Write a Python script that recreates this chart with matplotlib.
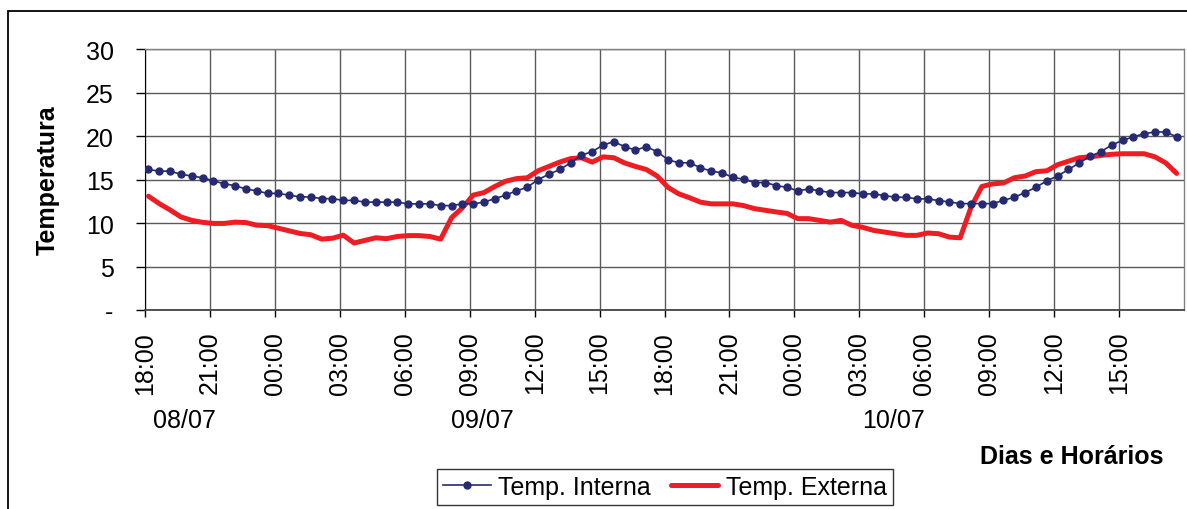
import numpy as np
import matplotlib
matplotlib.use("Agg")
import matplotlib.pyplot as plt
from matplotlib.patches import Rectangle

plt.rcParams["font.family"] = ["Liberation Sans", "DejaVu Sans"]

# readings every 30 min, starting 08/07 18:00
temp_interna = [
    16.15, 15.96, 15.96, 15.6, 15.4, 15.2, 14.85, 14.5, 14.3, 13.9,
    13.7, 13.4, 13.4, 13.2, 13.0, 13.0, 12.8, 12.8, 12.6, 12.6,
    12.4, 12.4, 12.4, 12.4, 12.2, 12.2, 12.2, 12.0, 12.0, 12.2,
    12.2, 12.4, 12.8, 13.2, 13.7, 14.1, 15.0, 15.6, 16.15, 16.9,
    17.8, 18.2, 18.96, 19.35, 18.77, 18.38, 18.77, 18.19, 17.27, 16.92,
    16.92, 16.35, 15.96, 15.77, 15.23, 15.04, 14.65, 14.65, 14.3, 14.1,
    13.7, 13.9, 13.7, 13.5, 13.5, 13.5, 13.35, 13.35, 13.15, 12.96,
    12.96, 12.77, 12.77, 12.58, 12.42, 12.23, 12.23, 12.23, 12.23, 12.6,
    12.96, 13.5, 14.1, 14.85, 15.4, 16.15, 16.9, 17.65, 18.2, 18.96,
    19.5, 19.9, 20.27, 20.46, 20.46, 19.9,
]
temp_externa = [
    13.08, 12.23, 11.5, 10.7, 10.3, 10.08, 9.95, 9.95, 10.1, 10.05,
    9.75, 9.7, 9.4, 9.1, 8.8, 8.65, 8.15, 8.25, 8.6, 7.7,
    8.0, 8.3, 8.2, 8.45, 8.55, 8.55, 8.45, 8.15, 10.6, 11.75,
    13.2, 13.5, 14.2, 14.8, 15.1, 15.2, 16.0, 16.5, 17.0, 17.4,
    17.5, 17.0, 17.6, 17.5, 16.9, 16.5, 16.15, 15.4, 14.1, 13.35,
    12.9, 12.4, 12.2, 12.2, 12.2, 12.0, 11.65, 11.46, 11.27, 11.1,
    10.5, 10.5, 10.3, 10.1, 10.3, 9.73, 9.5, 9.15, 8.96, 8.77,
    8.58, 8.58, 8.85, 8.77, 8.38, 8.3, 11.8, 14.2, 14.5, 14.6,
    15.2, 15.4, 15.9, 16.0, 16.7, 17.1, 17.5, 17.6, 17.77, 17.9,
    17.96, 17.96, 17.96, 17.6, 16.9, 15.7,
]
hour_labels = ["18:00", "21:00", "00:00", "03:00", "06:00", "09:00", "12:00", "15:00",
               "18:00", "21:00", "00:00", "03:00", "06:00", "09:00", "12:00", "15:00"]
day_labels = ["08/07", "09/07", "10/07"]
y_labels = ["-", "5", "10", "15", "20", "25", "30"]

hours = 0.16 + 0.5 * np.arange(len(temp_interna))

W, H = 1187, 510
fig = plt.figure(figsize=(W / 100, H / 100), dpi=100)
ax = fig.add_axes([145 / W, 1 - 311 / H, (1184 - 145) / W, (311 - 50) / H])

grid_c = "#5a5a5a"
ax.plot(hours, temp_interna, color="#262a72", lw=1.2, marker="o", ms=5,
        label="Temp. Interna", zorder=4)
ax.plot(hours, temp_externa, color="#ee1d24", lw=3.6, solid_capstyle="round",
        label="Temp. Externa", zorder=3)

ax.set_xlim(0, 48)
ax.set_ylim(0, 30)
ax.set_xticks(np.arange(0, 48, 3))
ax.set_xticklabels(hour_labels, rotation=90, fontsize=18)
ax.set_yticks(np.arange(0, 31, 5))
ax.set_yticklabels(y_labels, fontsize=18)
ax.tick_params(axis="y", direction="out", length=6.5, width=1, pad=16, color="black")
ax.tick_params(axis="x", direction="out", length=5, width=1, pad=10, color="black")
ax.grid(True, color=grid_c, lw=1)
ax.set_axisbelow(True)
for side in ["top", "right"]:
    ax.spines[side].set_color("#808080")
    ax.spines[side].set_linewidth(1)
ax.spines["left"].set_color("black")
ax.spines["bottom"].set_color("#444444")
ax.spines["bottom"].set_linewidth(1.3)

# day labels under the hour ticks
for lab, xp in zip(day_labels, [184, 482, 893]):
    fig.text(xp / W, 1 - 421 / H, lab, ha="center", va="center", fontsize=18)

fig.text(1163 / W, 1 - 457 / H, "Dias e Horários", ha="right", va="center",
         fontsize=18, fontweight="bold")
fig.text(48 / W, 1 - 180 / H, "Temperatura", ha="center", va="center",
         rotation=90, fontsize=18, fontweight="bold")

leg = fig.legend(loc="center", bbox_to_anchor=(665 / W, 1 - 488 / H), ncol=2,
                 fontsize=18, frameon=True, fancybox=False, handlelength=1.9,
                 handletextpad=0.3, columnspacing=0.8, borderpad=0.25,
                 borderaxespad=0)
leg.get_frame().set_edgecolor("black")
leg.get_frame().set_linewidth(1)

fig.patches.append(Rectangle((8 / W, -0.1), 1.2, 1 - 12 / H + 0.1,
                             transform=fig.transFigure, fill=False,
                             ec="black", lw=1.3))

plt.savefig("out.png", dpi=100)
plt.close()
